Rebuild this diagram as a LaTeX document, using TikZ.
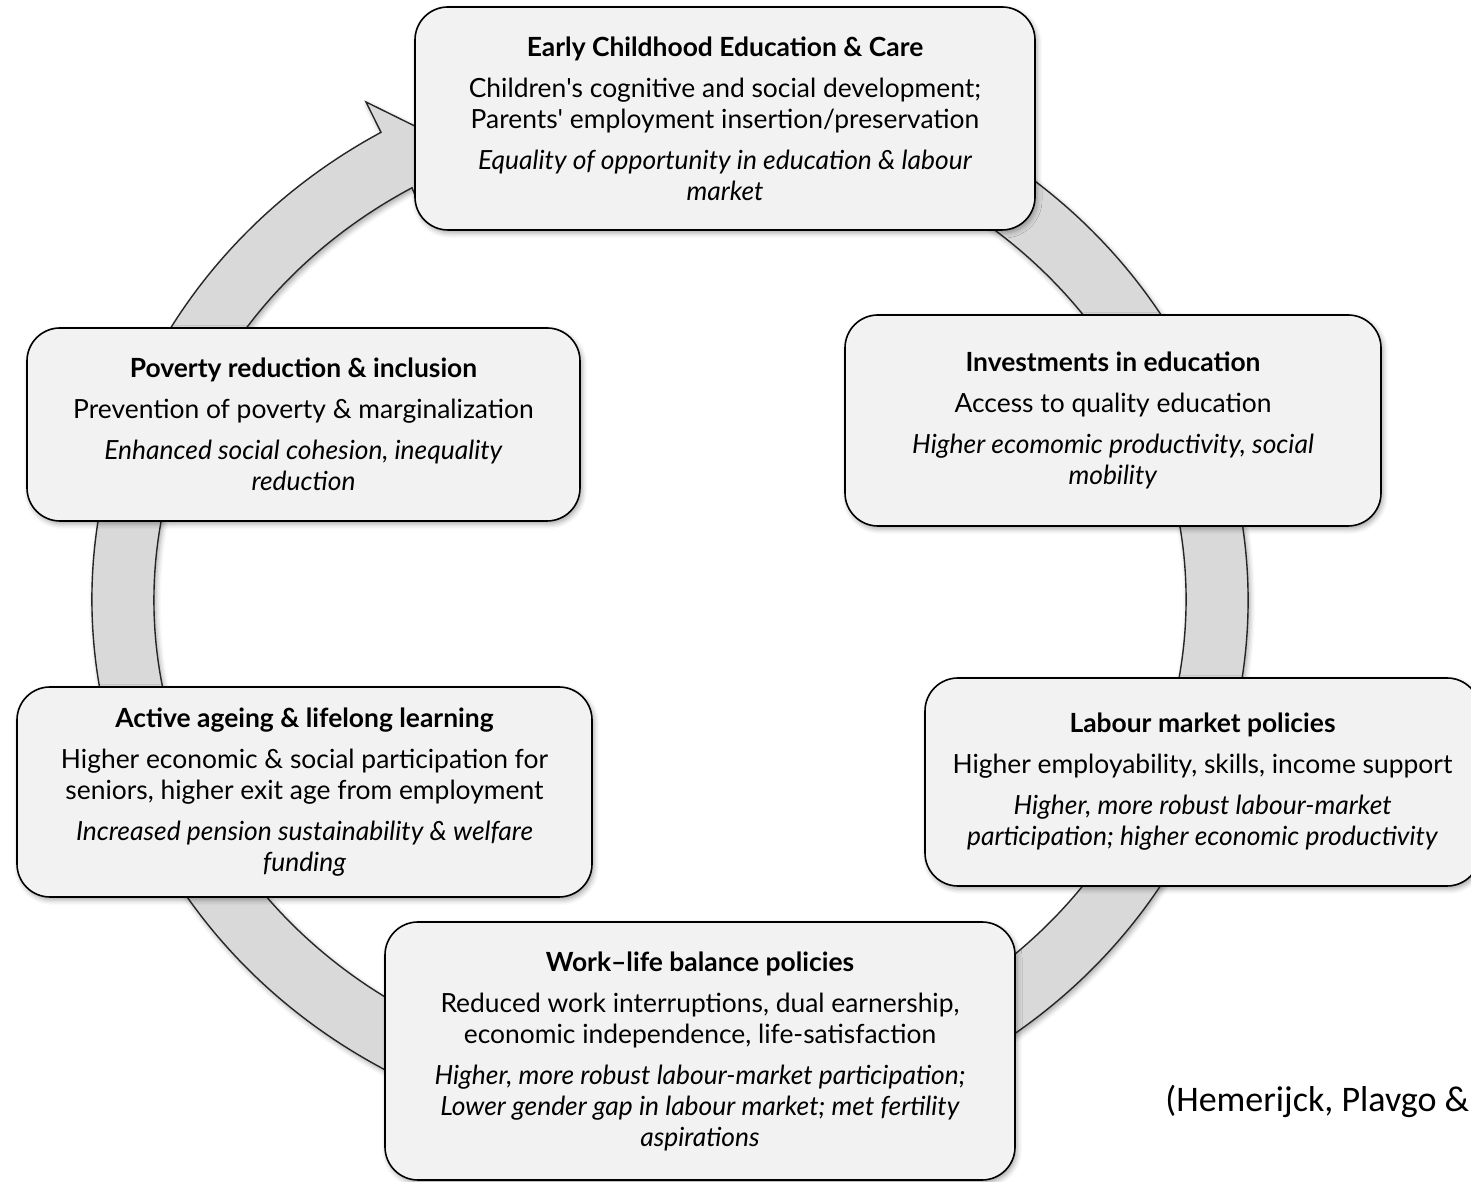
\documentclass[tikz,border=0pt]{standalone}
\usepackage{fontspec}
\setmainfont{Lato}
\newfontfamily\citefont{Carlito}
\usetikzlibrary{calc,shadows.blur}
\definecolor{boxfill}{HTML}{F2F2F2}
\definecolor{ringfill}{HTML}{D9D9D9}
\newcommand{\pg}{\\[5pt]}
\newcommand{\apos}{\textquotesingle}
\tikzset{
  shd/.style={blur shadow={shadow xshift=1pt, shadow yshift=-1.5pt, shadow blur radius=2.5pt, shadow opacity=35}},
  pbox/.style={shd, draw=black, line width=0.8pt, fill=boxfill, rounded corners=16.5pt,
    align=center, inner sep=0pt, font=\fontsize{13.2}{15.5}\selectfont},
  ringstyle/.style={shd, draw=black!85, line width=0.7pt, fill=ringfill}
}
\begin{document}
\begin{tikzpicture}[x=0.5pt,y=0.5pt]
\useasboundingbox (0,0) rectangle (1471,1182);
\coordinate (C) at (670,582);
\coordinate (ub) at (366,1080);
\coordinate (tip) at (435,1046);
\coordinate (lb) at (423,967);
\draw[ringstyle] ($(C)+(60:289pt and 270pt)$)
  arc[start angle=60, end angle=-240, x radius=289pt, y radius=270pt]
  -- (ub) -- (tip) -- (lb) -- ($(C)+(120:258pt and 238pt)$)
  arc[start angle=120, end angle=420, x radius=258pt, y radius=238pt] -- cycle;

\node[pbox, minimum width=310pt, minimum height=111.5pt] (ecec) at (725,1063.5)
 {\textbf{Early Childhood Education \& Care}\pg
  Children\apos s cognitive and social development;\\
  Parents\apos\ employment insertion/preservation\pg
  \textit{Equality of opportunity in education \& labour}\\
  \textit{market}};

\node[pbox, minimum width=268pt, minimum height=105.5pt] (inv) at (1113,761.5)
 {\textbf{Investments in education}\pg
  Access to quality education\pg
  \textit{Higher ecomomic productivity, social}\\
  \textit{mobility}};

\node[pbox, minimum width=277.5pt, minimum height=104pt] (lab) at (1202.5,400)
 {\textbf{Labour market policies}\pg
  Higher employability, skills, income support\pg
  \textit{Higher, more robust labour-market}\\
  \textit{participation; higher economic productivity}};

\node[pbox, minimum width=315pt, minimum height=129pt] (wlb) at (700,131)
 {\textbf{Work–life balance policies}\pg
  Reduced work interruptions, dual earnership,\\
  economic independence, life-satisfaction\pg
  \textit{Higher, more robust labour-market participation;}\\
  \textit{Lower gender gap in labour market; met fertility}\\
  \textit{aspirations}};

\node[pbox, minimum width=287.5pt, minimum height=105pt] (act) at (304.5,390)
 {\textbf{Active ageing \& lifelong learning}\pg
  Higher economic \& social participation for\\
  seniors, higher exit age from employment\pg
  \textit{Increased pension sustainability \& welfare}\\
  \textit{funding}};

\node[pbox, minimum width=276.5pt, minimum height=96.5pt] (pov) at (303.5,757.5)
 {\textbf{Poverty reduction \& inclusion}\pg
  Prevention of poverty \& marginalization\pg
  \textit{Enhanced social cohesion, inequality}\\
  \textit{reduction}};

\node[anchor=base west, inner sep=0pt, font=\citefont\fontsize{18}{22}\selectfont] (cite) at (1165,70)
 {(Hemerijck, Plavgo \&};
\end{tikzpicture}
\end{document}
